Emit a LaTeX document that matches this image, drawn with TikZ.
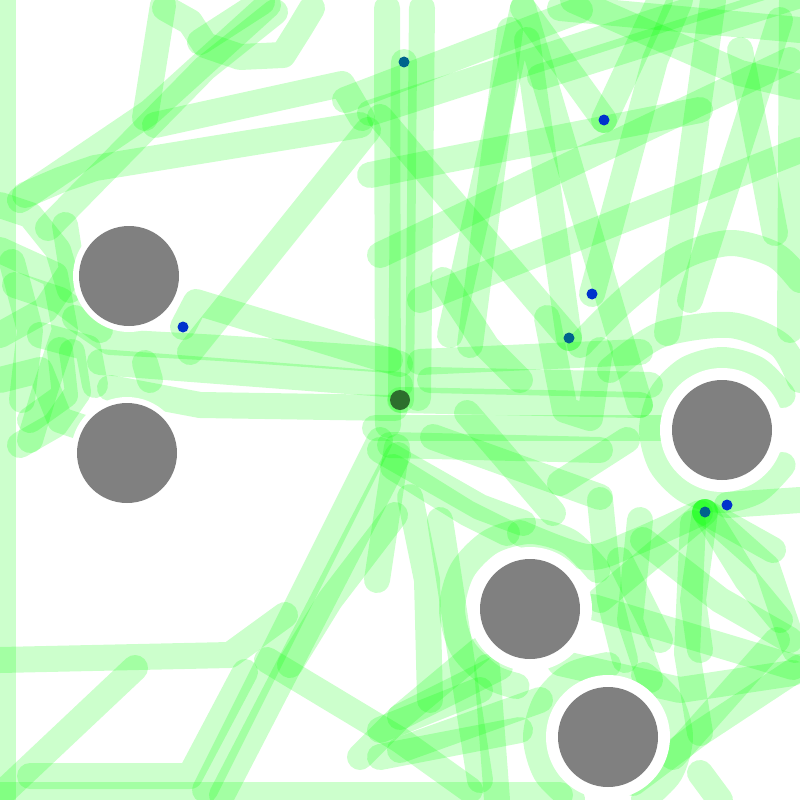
\documentclass[tikz,border=0pt]{standalone}
\begin{document}
\begin{tikzpicture}[x=1pt,y=-1pt,
  trail/.style={draw=green,line width=26pt,draw opacity=0.2,line cap=round,line join=round},
  obst/.style={fill={rgb,255:red,128;green,128;blue,128}},
  halo/.style={fill=white},
  goal/.style={fill={rgb,255:red,0;green,51;blue,204}},
  goalt/.style={fill={rgb,255:red,0;green,100;blue,140}},
  start/.style={fill={rgb,255:red,45;green,110;blue,45}}]
\useasboundingbox (0,0) rectangle (800,800);
\fill[white] (0,0) rectangle (800,800);
% --- borders
\draw[trail] (3,0) -- (3,800);
\draw[trail] (0,795) -- (560,795);
\draw[trail] (792,0) -- (790,330);
% --- left pile and upper left
\draw[trail] (20,200) -- (150,112) -- (268,5);
\draw[trail] (48,228) -- (205,68) -- (275,12);
\draw[trail] (163,5) -- (145,118);
\draw[trail] (165,8) -- (190,22) -- (205,45) -- (240,57) -- (283,55) -- (300,28) -- (312,8);
\draw[trail] (200,42) -- (262,2);
\draw[trail] (155,125) -- (342,84) -- (362,118);
\draw[trail] (25,195) -- (60,180) -- (95,168) -- (360,125);
\draw[trail] (368,130) -- (190,352);
\draw[trail] (183,327) -- (196,302) -- (400,364);
\draw[trail] (75,318) -- (110,342) -- (220,348) -- (390,360);
\draw[trail] (100,362) -- (400,385);
\draw[trail] (110,388) -- (200,405) -- (395,408);
\draw[trail] (0,250) -- (55,275) -- (65,330) -- (45,390) -- (30,440);
\draw[trail] (15,285) -- (60,300) -- (100,330);
\draw[trail] (0,335) -- (45,310) -- (72,270) -- (65,225);
\draw[trail] (30,420) -- (65,395) -- (60,350);
\draw[trail] (0,205) -- (30,215) -- (58,250) -- (70,290);
\draw[trail] (12,262) -- (30,330) -- (22,400);
\draw[trail] (40,335) -- (88,348) -- (95,385);
\draw[trail] (20,445) -- (55,425) -- (78,392) -- (72,352);
\draw[trail] (0,380) -- (40,370) -- (60,420) -- (90,430);
\draw[trail] (145,363) -- (150,380);
% --- central verticals
\draw[trail] (387,8) -- (388,425);
\draw[trail] (404,62) -- (401,400);
\draw[trail] (422,8) -- (418,398);
% --- top centre and right
\draw[trail] (345,100) -- (580,10);
\draw[trail] (370,113) -- (800,-25);
\draw[trail] (380,255) -- (790,60);
\draw[trail] (370,175) -- (700,110);
\draw[trail] (450,335) -- (523,8) -- (640,405);
\draw[trail] (510,30) -- (470,345);
\draw[trail] (523,8) -- (604,120);
\draw[trail] (660,0) -- (604,120);
\draw[trail] (527,40) -- (569,338);
\draw[trail] (380,117) -- (569,338);
\draw[trail] (592,294) -- (655,60) -- (680,0);
\draw[trail] (713,0) -- (667,333);
\draw[trail] (740,50) -- (775,233);
\draw[trail] (573,0) -- (740,73) -- (800,87);
\draw[trail] (540,77) -- (800,-5);
\draw[trail] (560,8) -- (800,30);
\draw[trail] (780,20) -- (690,300);
\draw[trail] (420,300) -- (800,150);
\draw[trail] plot[smooth] coordinates {(580,345) (625,300) (680,258) (730,243) (775,255) (800,280)};
\draw[trail] plot[smooth] coordinates {(610,370) (660,335) (730,325) (780,345) (800,380)};
% --- centre right
\draw[trail] (420,362) -- (640,352);
\draw[trail] (443,280) -- (487,347) -- (520,380);
\draw[trail] (430,380) -- (650,385);
\draw[trail] (400,400) -- (640,405);
\draw[trail] (375,428) -- (660,428);
\draw[trail] (390,445) -- (600,450);
\draw[trail] (547,318) -- (565,410) -- (590,418) -- (600,350);
\draw[trail] (433,437) -- (600,497);
\draw[trail] (467,413) -- (553,513);
\draw[trail] (560,483) -- (627,440);
% --- down-left diagonals
\draw[trail] (205,790) -- (380,440);
\draw[trail] (222,795) -- (398,455);
\draw[trail] (397,447) -- (377,580);
\draw[trail] (410,497) -- (427,580) -- (430,700);
\draw[trail] (393,467) -- (467,513) -- (507,533);
\draw[trail] (380,450) -- (480,507) -- (523,523);
\draw[trail] (290,665) -- (330,600) -- (395,515);
\draw[trail] (360,757) -- (400,717) -- (480,650);
\draw[trail] (267,660) -- (400,740) -- (470,790);
\draw[trail] (440,520) -- (460,650) -- (480,780);
\draw[trail] (380,730) -- (480,690);
\draw[trail] (380,757) -- (520,730);
% --- bottom left parallelogram
\draw[trail] (0,660) -- (230,655) -- (285,615);
\draw[trail] (-5,800) -- (135,668);
\draw[trail] (30,776) -- (190,776) -- (245,672);
% --- obstacle rings
\draw[trail] plot[smooth] coordinates {(597.5,570) (569,541.5) (530,531) (491,541.5) (462.5,570) (452,609) (462.5,648) (491,676.5) (516.5,686)};
\draw[trail] plot[smooth] coordinates {(608,665) (572,675) (546,701) (536,737) (546,773) (572,799)};
\draw[trail] plot[smooth] coordinates {(644,675) (670,701) (680,737) (670,773) (644,799)};
\draw[trail] plot[smooth] coordinates {(782.6,395) (757,369.4) (722,360) (687,369.4) (661.4,395) (652,430) (661.4,465) (687,490.6) (722,500) (757,490.6) (782.6,465)};
% --- fan at lower right
\draw[trail] (705,512) -- (600,600);
\draw[trail] (705,512) -- (693,600) -- (700,650);
\draw[trail] (705,512) -- (767,567) -- (795,650);
\draw[trail] (705,512) -- (773,550);
\draw[trail] (705,512) -- (747,580) -- (780,620);
\draw[trail] (693,523) -- (687,653) -- (700,733);
\draw[trail] (727,505) -- (800,500);
\draw[trail] plot[smooth] coordinates {(520,533) (587,557) (633,543) (700,513)};
\draw[trail] (593,607) -- (793,667);
\draw[trail] (800,667) -- (700,733) -- (633,783);
\draw[trail] (777,640) -- (673,757);
\draw[trail] (560,663) -- (680,690) -- (793,673);
\draw[trail] (600,500) -- (610,600) -- (625,660);
\draw[trail] (640,520) -- (630,620) -- (650,680);
\draw[trail] (643,540) -- (720,600) -- (790,640);
\draw[trail] (620,560) -- (660,640);
\draw[trail] (700,773) -- (720,800);
\draw[trail] (400,717) -- (500,667);
\draw[trail] (400,750) -- (540,700);
\draw[trail] (487,667) -- (497,800);
% --- halos and obstacles
\fill[halo] (129,276) circle (56);
\fill[halo] (127,453) circle (56);
\fill[halo] (722,430) circle (62);
\fill[halo] (530,609) circle (62);
\fill[halo] (608,737) circle (62);
\fill[obst] (129,276) circle (50);
\fill[obst] (127,453) circle (50);
\fill[obst] (722,430) circle (50);
\fill[obst] (530,609) circle (50);
\fill[obst] (608,737) circle (50);
% --- goals and start
\fill[goal] (183,327) circle (5.5);
\fill[goal] (604,120) circle (5.5);
\fill[goal] (592,294) circle (5.5);
\fill[goal] (727,505) circle (5.5);
\fill[goalt] (404,62) circle (5.5);
\fill[goalt] (569,338) circle (5.5);
\fill[goalt] (705,512) circle (5.5);
\fill[start] (400,400) circle (10);
\end{tikzpicture}
\end{document}
